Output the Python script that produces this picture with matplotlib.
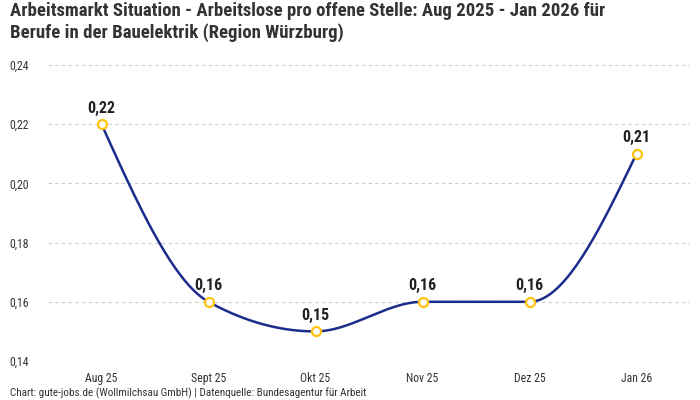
import numpy as np
import matplotlib
matplotlib.use("Agg")
import matplotlib.pyplot as plt
from matplotlib import font_manager

categories = ["Aug 25", "Sept 25", "Okt 25", "Nov 25", "Dez 25", "Jan 26"]
values = [0.22, 0.16, 0.15, 0.16, 0.16, 0.21]
y_ticks = [0.14, 0.16, 0.18, 0.20, 0.22, 0.24]

names = {f.name for f in font_manager.fontManager.ttflist}
fam = [f for f in ["Liberation Sans Narrow", "Roboto Condensed", "Roboto", "DejaVu Sans"] if f in names]
plt.rcParams['font.family'] = fam

def monotone_x(x, y, n=40):
    x = np.asarray(x, float); y = np.asarray(y, float)
    h = np.diff(x); s = np.diff(y) / h
    t = np.zeros_like(y)
    for i in range(1, len(y) - 1):
        p = (s[i-1] * h[i] + s[i] * h[i-1]) / (h[i-1] + h[i])
        t[i] = (np.sign(s[i-1]) + np.sign(s[i])) * min(abs(s[i-1]), abs(s[i]), 0.5 * abs(p))
    t[0] = (3 * s[0] - t[1]) / 2
    t[-1] = (3 * s[-1] - t[-2]) / 2
    xs, ys = [], []
    for i in range(len(x) - 1):
        u = np.linspace(0, 1, n)
        h00 = 2*u**3 - 3*u**2 + 1
        h10 = u**3 - 2*u**2 + u
        h01 = -2*u**3 + 3*u**2
        h11 = u**3 - u**2
        xs.append(x[i] + u * h[i])
        ys.append(h00*y[i] + h10*h[i]*t[i] + h01*y[i+1] + h11*h[i]*t[i+1])
    return np.concatenate(xs), np.concatenate(ys)

fig = plt.figure(figsize=(7, 4), dpi=100)
ax = fig.add_axes([48/700, 1 - 361/400, 642/700, (361 - 65)/400])
x = np.arange(len(categories))
cx, cy = monotone_x(x, values)
ax.plot(cx, cy, color="#1c2c8c", lw=1.8, zorder=3)
ax.plot(x, values, 'o', ms=6.5, mfc="white", mec="#ffc20e", mew=1.6, zorder=4)
for xi, v in zip(x, values):
    ax.annotate(f"{v:.2f}".replace(".", ","), (xi, v), xytext=(0, 6), textcoords="offset points",
                ha="center", va="bottom", fontsize=11.5, fontweight="bold", color="#222222")

ax.set_xlim(-0.5, len(categories) - 0.5)
ax.set_ylim(0.14, 0.24)
ax.set_xticks(x)
ax.set_xticklabels(categories, fontsize=8.5, color="#333333")
ax.set_yticks(y_ticks)
ax.set_yticklabels([f"{v:.2f}".replace(".", ",") for v in y_ticks], fontsize=8.5, color="#333333", ha="left")
ax.tick_params(axis="y", length=0, pad=27.5)
ax.tick_params(axis="x", length=0, pad=8)
ax.grid(axis="y", color="#cccccc", ls=(0, (3, 3)), lw=0.8)
ax.set_axisbelow(True)
for sp in ax.spines.values():
    sp.set_visible(False)

fig.text(10/700, 1 - 2/400, "Arbeitsmarkt Situation - Arbeitslose pro offene Stelle: Aug 2025 - Jan 2026 für\nBerufe in der Bauelektrik (Region Würzburg)",
         ha="left", va="top", fontsize=13.5, fontweight="bold", color="#333333", linespacing=1.2)
fig.text(10/700, 1 - 393/400, "Chart: gute-jobs.de (Wollmilchsau GmbH) | Datenquelle: Bundesagentur für Arbeit",
         ha="left", va="center", fontsize=8, color="#333333")
fig.savefig("out.png", dpi=100)
